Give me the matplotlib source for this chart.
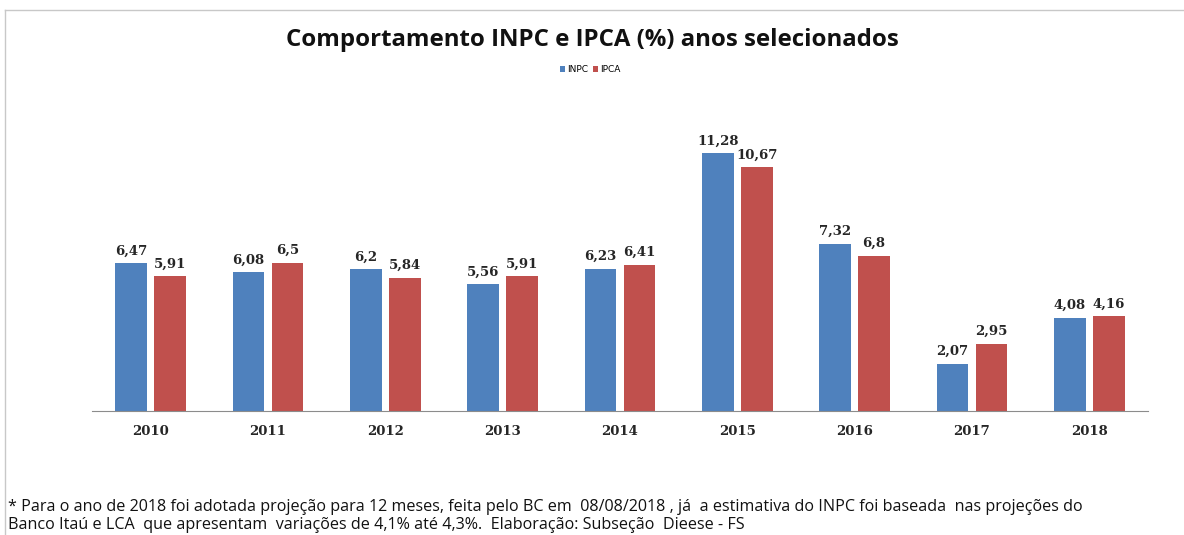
import numpy as np
import matplotlib.pyplot as plt
from matplotlib.lines import Line2D

anos = ["2010", "2011", "2012", "2013", "2014", "2015", "2016", "2017", "2018"]
inpc = [6.47, 6.08, 6.2, 5.56, 6.23, 11.28, 7.32, 2.07, 4.08]
ipca = [5.91, 6.5, 5.84, 5.91, 6.41, 10.67, 6.8, 2.95, 4.16]
rotulos_inpc = ["6,47", "6,08", "6,2", "5,56", "6,23", "11,28", "7,32", "2,07", "4,08"]
rotulos_ipca = ["5,91", "6,5", "5,84", "5,91", "6,41", "10,67", "6,8", "2,95", "4,16"]

W, H = 1184, 535
fig = plt.figure(figsize=(W / 100, H / 100), dpi=100)

# eixo: base em y=411px, de x=92 a x=1148
ax = fig.add_axes([92 / W, 1 - 411 / H, (1148 - 92) / W, (411 - 114) / H])
x = np.arange(len(anos))
larg = 0.27
b1 = ax.bar(x - 0.165, inpc, larg, color="#4F81BD", label="INPC")
b2 = ax.bar(x + 0.165, ipca, larg, color="#C0504D", label="IPCA")

fonte_num = {"family": "DejaVu Serif", "size": 9.5, "weight": "bold", "color": "#262626"}
for rect, txt in zip(b1, rotulos_inpc):
    ax.annotate(txt, (rect.get_x() + rect.get_width() / 2, rect.get_height()),
                xytext=(0, 4), textcoords="offset points", ha="center", va="bottom", **fonte_num)
for rect, txt in zip(b2, rotulos_ipca):
    ax.annotate(txt, (rect.get_x() + rect.get_width() / 2, rect.get_height()),
                xytext=(0, 4), textcoords="offset points", ha="center", va="bottom", **fonte_num)

ax.set_xlim(-0.5, len(anos) - 0.5)
ax.set_ylim(0, 13)
ax.set_xticks(x)
ax.set_xticklabels(anos, family="DejaVu Serif", fontsize=9.5, fontweight="bold", color="#262626")
ax.tick_params(axis="x", length=0, pad=10)
ax.set_yticks([])
for s in ["top", "right", "left"]:
    ax.spines[s].set_visible(False)
ax.spines["bottom"].set_color("#8c8c8c")

fig.text(0.5, 1 - 40 / H, "Comportamento INPC e IPCA (%) anos selecionados",
         ha="center", va="center", fontsize=17.3, fontweight="bold", family="Open Sans", color="#111111")
fig.legend(handles=[b1, b2], loc="center", bbox_to_anchor=(590 / W, 1 - 70 / H), ncol=2,
           frameon=False, fontsize=6.5, handlelength=0.6, handleheight=0.6, handletextpad=0.2,
           columnspacing=0.5)

nota1 = "* Para o ano de 2018 foi adotada projeção para 12 meses, feita pelo BC em  08/08/2018 , já  a estimativa do INPC foi baseada  nas projeções do"
nota2 = "Banco Itaú e LCA  que apresentam  variações de 4,1% até 4,3%.  Elaboração: Subseção  Dieese - FS"
fig.text(8 / W, 1 - 507 / H, nota1, ha="left", va="center", fontsize=11.6, family="Open Sans", color="#111111")
fig.text(8 / W, 1 - 525 / H, nota2, ha="left", va="center", fontsize=11.6, family="Open Sans", color="#111111")

# moldura
fig.add_artist(Line2D([5 / W, 1], [1 - 10 / H, 1 - 10 / H], color="#c8c8c8", lw=1, transform=fig.transFigure))
fig.add_artist(Line2D([5 / W, 5 / W], [0, 1 - 10 / H], color="#c8c8c8", lw=1, transform=fig.transFigure))

fig.savefig("out.png", dpi=100, facecolor="white")
